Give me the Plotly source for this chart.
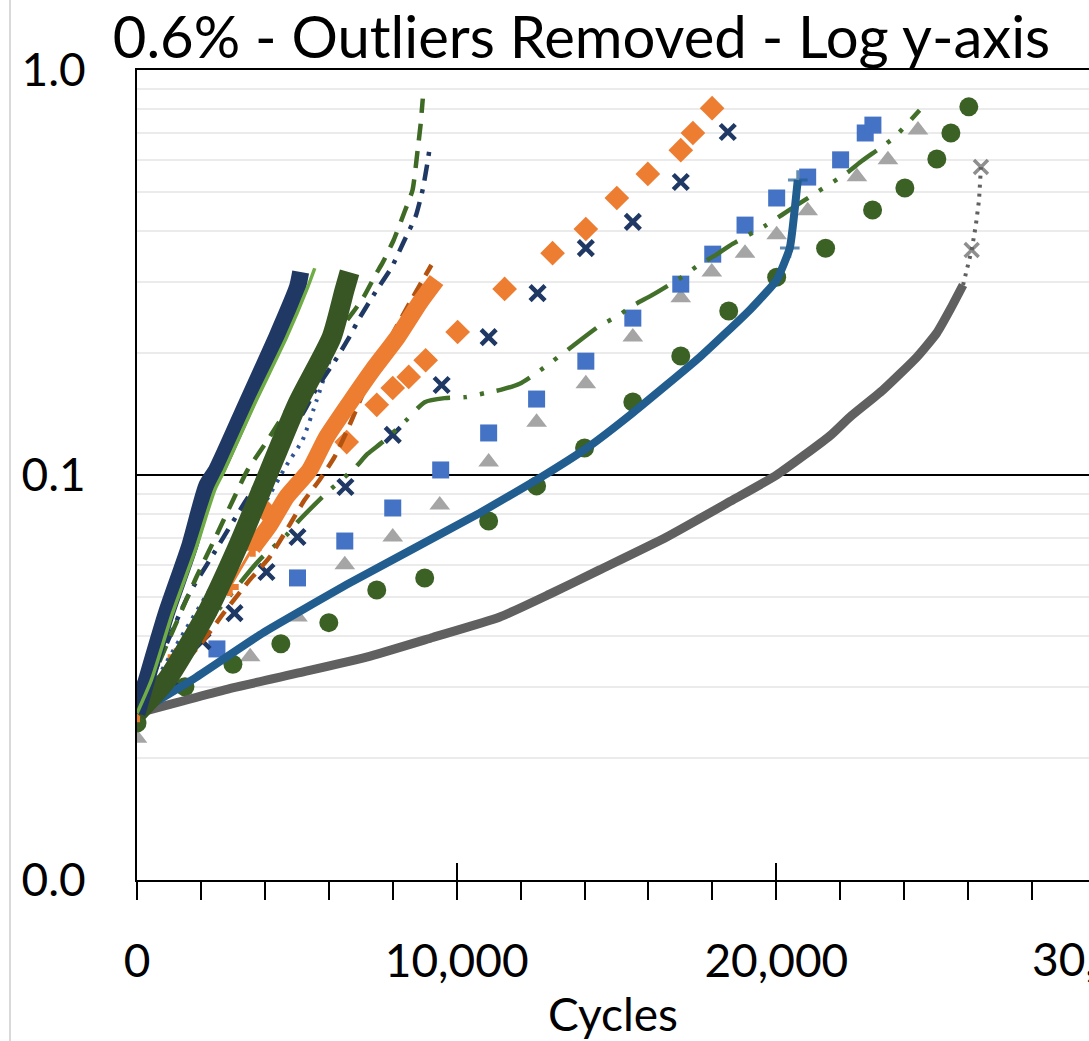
import plotly.graph_objects as go

# ---------------- data ----------------
# A: navy dense-marker series
a_x = [0, 300, 920, 1640, 2180, 2490, 3430, 4370, 5020, 5120]
a_y = [0.0258, 0.0312, 0.0456, 0.0665, 0.0940, 0.1029, 0.150, 0.219, 0.291, 0.317]
# B: light green solid line
b_x = [0, 450, 1110, 1860, 2430, 2740, 3680, 4680, 5340, 5560]
b_y = [0.0258, 0.0312, 0.0456, 0.0665, 0.0918, 0.1029, 0.150, 0.219, 0.291, 0.324]
# C: dark green dense-marker series
c_x = [0, 930, 2180, 3150, 3960, 5020, 6090, 6490, 6650]
c_y = [0.0258, 0.0312, 0.0456, 0.0665, 0.0945, 0.150, 0.219, 0.286, 0.3165]
# D: dark green long dash
d_x = [0, 1860, 2490, 2990, 3460, 4050, 5560, 6030, 6340, 6810, 7090, 7460, 7680, 8030, 8370, 8620, 8780, 8870, 8940]
d_y = [0.0258, 0.056, 0.0711, 0.0863, 0.1029, 0.1207, 0.1848, 0.2035, 0.228, 0.2555, 0.2752, 0.312, 0.334, 0.3804, 0.4467, 0.5057, 0.635, 0.7316, 0.85]
# E: navy long dash dot
e_x = [0, 1580, 2390, 3360, 5210, 5620, 6150, 6590, 7000, 7460, 7970, 8340, 8720, 8940, 9090, 9160]
e_y = [0.0258, 0.050, 0.0638, 0.0853, 0.143, 0.164, 0.189, 0.2155, 0.247, 0.283, 0.326, 0.376, 0.436, 0.508, 0.593, 0.645]
# F: navy dotted
f_x = [0, 1330, 2900, 3930, 4680, 5180, 5620, 6030, 6430]
f_y = [0.0258, 0.0392, 0.0627, 0.0834, 0.1058, 0.122, 0.153, 0.192, 0.248]
# G: orange plus-marker series (sparse start, dense end)
g1_x = [0, 1240, 1700, 2210, 2900, 3620]
g1_y = [0.0258, 0.0355, 0.0398, 0.0456, 0.0529, 0.0661]
g2_x = [3620, 4150, 4680, 5400, 5930, 6650, 7370, 8150, 8840, 9370]
g2_y = [0.0661, 0.0752, 0.0883, 0.1029, 0.124, 0.1506, 0.1817, 0.219, 0.266, 0.303]
# H: brown dashed
h_x = [0, 1960, 2740, 3520, 4150, 4770, 5240, 5710, 6180, 6650, 7120, 7590, 8060, 8530, 8900, 9210]
h_y = [0.0258, 0.038, 0.0459, 0.055, 0.0627, 0.0752, 0.0867, 0.0972, 0.1108, 0.1329, 0.1622, 0.192, 0.228, 0.266, 0.2995, 0.330]
# I: orange diamonds
i_x = [3990, 6560, 7500, 8000, 8500, 9030, 10030, 11500, 13000, 14040, 15010, 15980, 17010, 17390, 17990]
i_y = [0.0820, 0.1206, 0.149, 0.164, 0.1746, 0.192, 0.2255, 0.288, 0.353, 0.405, 0.483, 0.554, 0.634, 0.699, 0.805]
# J: navy X markers
j_x = [1080, 2050, 3050, 4050, 5020, 6520, 8000, 9530, 11000, 12530, 14040, 15510, 17010, 18480]
j_y = [0.0312, 0.0389, 0.0456, 0.0576, 0.0703, 0.0934, 0.1256, 0.1668, 0.219, 0.2813, 0.3634, 0.4216, 0.529, 0.703]
# K: blue squares
k_x = [0, 2500, 5020, 6500, 8000, 9500, 11000, 12500, 14040, 15510, 17010, 18010, 19020, 20010, 20980, 22010, 22780, 23020]
k_y = [0.0296, 0.0372, 0.0557, 0.0687, 0.0829, 0.1029, 0.127, 0.154, 0.191, 0.244, 0.296, 0.351, 0.414, 0.483, 0.544, 0.600, 0.699, 0.731]
# L: grey triangles
l_x = [0, 3540, 5020, 6500, 8000, 9470, 11000, 12500, 14040, 15510, 17010, 17980, 19020, 20010, 20980, 22520, 23490, 24430]
l_y = [0.0224, 0.0356, 0.0446, 0.060, 0.0703, 0.0843, 0.1077, 0.135, 0.168, 0.219, 0.274, 0.317, 0.353, 0.392, 0.449, 0.545, 0.600, 0.711]
# M: dark green circles
m_x = [0, 1500, 3000, 4500, 6000, 7500, 9000, 11000, 12500, 14000, 15510, 17010, 18510, 20010, 21540, 23010, 24020, 25020, 25460, 26020]
m_y = [0.0244, 0.0300, 0.0341, 0.0383, 0.0432, 0.052, 0.0557, 0.077, 0.094, 0.1166, 0.1514, 0.1967, 0.254, 0.308, 0.363, 0.451, 0.511, 0.603, 0.699, 0.811]
# N: green long-dash-dot-dot curve
n_x = [0, 3830, 4680, 5020, 5930, 6810, 7210, 7680, 8400, 9000, 9620, 10280, 10880, 11400, 11970, 12500, 13010, 13540, 14480, 15010, 15510, 16110, 17040, 17570, 18100, 18630, 19640, 20170, 20700, 21230, 22200, 22670, 23200, 23700, 24480]
n_y = [0.0258, 0.0617, 0.0711, 0.0765, 0.0903, 0.104, 0.1127, 0.1206, 0.136, 0.1513, 0.1548, 0.1557, 0.1593, 0.1625, 0.1680, 0.1786, 0.1912, 0.2056, 0.2338, 0.2462, 0.262, 0.278, 0.308, 0.330, 0.349, 0.372, 0.412, 0.4385, 0.467, 0.497, 0.557, 0.596, 0.638, 0.683, 0.796]
# O: blue plus-marker line
o_x = [0, 1860, 3930, 6650, 10720, 12600, 14100, 15510, 17610, 19170, 20010, 20420, 20670]
o_y = [0.0258, 0.0317, 0.0407, 0.0541, 0.0806, 0.0983, 0.1170, 0.1424, 0.1956, 0.2556, 0.303, 0.3635, 0.535]
o_marker = [0, 0, 0, 0, 0, 0, 0, 0, 0, 0, 0, 14, 14]
# P: grey plus-marker line and its dotted tail
p_x = [0, 2990, 5090, 7180, 9250, 11350, 12910, 14470, 16570, 18640, 20010, 21670, 22300, 23330, 24400, 25020, 25430, 25840]
p_y = [0.0258, 0.0298, 0.0325, 0.0355, 0.0397, 0.0446, 0.0508, 0.0583, 0.0703, 0.0868, 0.1, 0.1248, 0.139, 0.162, 0.1956, 0.2243, 0.2556, 0.2945]
pt_x = [25840, 25990, 26110, 26240, 26340, 26400]
pt_y = [0.2945, 0.330, 0.3594, 0.414, 0.477, 0.576]
pt_marker = [0, 0, 14, 0, 0, 14]

y_tickvals = [0.01, 0.1, 1.0]
y_ticktext = ["0.0", "0.1", "1.0"]
y_minor = [0.02, 0.03, 0.04, 0.05, 0.06, 0.07, 0.08, 0.09, 0.2, 0.3, 0.4, 0.5, 0.6, 0.7, 0.8, 0.9]

FONT = "Lato"
fig = go.Figure()


def add(x, y, **kw):
    fig.add_trace(go.Scatter(x=x, y=y, showlegend=False, hoverinfo="skip", **kw))


# markers-only series
add(l_x, l_y, mode="markers", marker=dict(symbol="triangle-up", size=18, color="#A5A5A5"))
add(m_x, m_y, mode="markers", marker=dict(symbol="circle", size=19, color="#3B6125"))
add(k_x, k_y, mode="markers", marker=dict(symbol="square", size=17, color="#4472C4"))
add(i_x, i_y, mode="markers", marker=dict(symbol="diamond", size=19, color="#ED7D31"))
add(j_x, j_y, mode="markers", marker=dict(symbol="x-thin", size=15, color="#1F3864",
                                            line=dict(width=4.5, color="#1F3864")))
# long curves
add(n_x, n_y, mode="lines", line=dict(color="#42702A", width=4.5, shape="spline", smoothing=0.6,
                                      dash="36px,13px,4px,13px,4px,13px"))
add(p_x, p_y, mode="lines", line=dict(color="#606060", width=9, shape="spline", smoothing=0.5))
add(pt_x, pt_y, mode="lines+markers", line=dict(color="#606060", width=4, dash="3px,6px"),
    marker=dict(symbol="x-thin", size=pt_marker, line=dict(width=3.5, color="#606060")))
add(o_x, o_y, mode="lines+markers", line=dict(color="#215D8F", width=8, shape="spline", smoothing=0.4),
    marker=dict(symbol="cross-thin", size=o_marker, line=dict(width=3, color="#215D8F")))
# steep left group
add(h_x, h_y, mode="lines", line=dict(color="#B4530F", width=4.5, dash="15px,9px", shape="spline", smoothing=0.5))
add(g1_x, g1_y, mode="lines+markers", line=dict(color="#ED7D31", width=3),
    marker=dict(symbol="cross", size=15, color="#ED7D31"))
add(g2_x, g2_y, mode="lines", line=dict(color="#ED7D31", width=17, shape="spline", smoothing=0.5))
add(f_x, f_y, mode="lines", line=dict(color="#2F5597", width=4, dash="3px,7px", shape="spline", smoothing=0.5))
add(e_x, e_y, mode="lines", line=dict(color="#1F3864", width=4.5, dash="16px,9px,4px,9px", shape="spline", smoothing=0.5))
add(d_x, d_y, mode="lines", line=dict(color="#3E6A26", width=4.5, dash="17px,11px", shape="spline", smoothing=0.5))
add(c_x, c_y, mode="lines", line=dict(color="#375623", width=20, shape="spline", smoothing=0.6))
add(a_x, a_y, mode="lines", line=dict(color="#203864", width=17, shape="spline", smoothing=0.6))
add(b_x, b_y, mode="lines", line=dict(color="#70AD47", width=3.5, shape="spline", smoothing=0.6))
# overlay axis for upward halves of the major x ticks
fig.add_trace(go.Scatter(x=[None], y=[None], xaxis="x2", showlegend=False, hoverinfo="skip"))

fig.update_layout(
    width=1089, height=1041,
    margin=dict(l=137, r=0, t=70, b=161),
    paper_bgcolor="white", plot_bgcolor="white",
    font=dict(family=FONT, color="black", size=46),
    title=dict(text="0.6% - Outliers Removed - Log y-axis", font=dict(family=FONT, size=58, color="black"),
               x=0.534, xref="container", xanchor="center", y=1 - 38 / 1041, yref="container", yanchor="middle"),
    xaxis=dict(range=[0, 29780], dtick=10000, tick0=0, tickformat=",d",
               showgrid=False, zeroline=False,
               showline=True, linecolor="black", linewidth=2, mirror=True,
               ticks="outside", ticklen=18, tickwidth=2, tickcolor="black",
               minor=dict(dtick=2000, tick0=0, ticks="outside", ticklen=18, tickwidth=2, tickcolor="black", showgrid=False),
               ticklabelstandoff=22,
               tickfont=dict(family=FONT, size=46, color="black"),
               title=dict(text="Cycles", font=dict(family=FONT, size=46, color="black"), standoff=14)),
    xaxis2=dict(range=[0, 29780], matches="x", overlaying="x", anchor="y", side="bottom",
                dtick=10000, tick0=0, ticks="inside", ticklen=17, tickwidth=2, tickcolor="black",
                showticklabels=False, showgrid=False, zeroline=False, showline=False),
    yaxis=dict(type="log", range=[-2, 0], tickmode="array", tickvals=y_tickvals, ticktext=y_ticktext,
               showgrid=True, gridcolor="black", gridwidth=2, zeroline=False,
               showline=True, linecolor="black", linewidth=2,
               ticks="", ticklabelstandoff=40,
               minor=dict(tickmode="array", tickvals=y_minor, showgrid=True, gridcolor="#EBEBEB", gridwidth=2, ticks=""),
               tickfont=dict(family=FONT, size=46, color="black")),
    annotations=[dict(text="30,000", xref="paper", yref="paper", x=(1030 - 137) / 952, y=-0.0963,
                      xanchor="left", yanchor="middle", showarrow=False,
                      font=dict(family=FONT, size=46, color="black"))],
    shapes=[dict(type="line", xref="paper", yref="paper", x0=-0.1334, x1=-0.1334, y0=-0.2, y1=1.09,
                 line=dict(color="#D9D9D9", width=2))],
)

fig.write_html("out.html")
